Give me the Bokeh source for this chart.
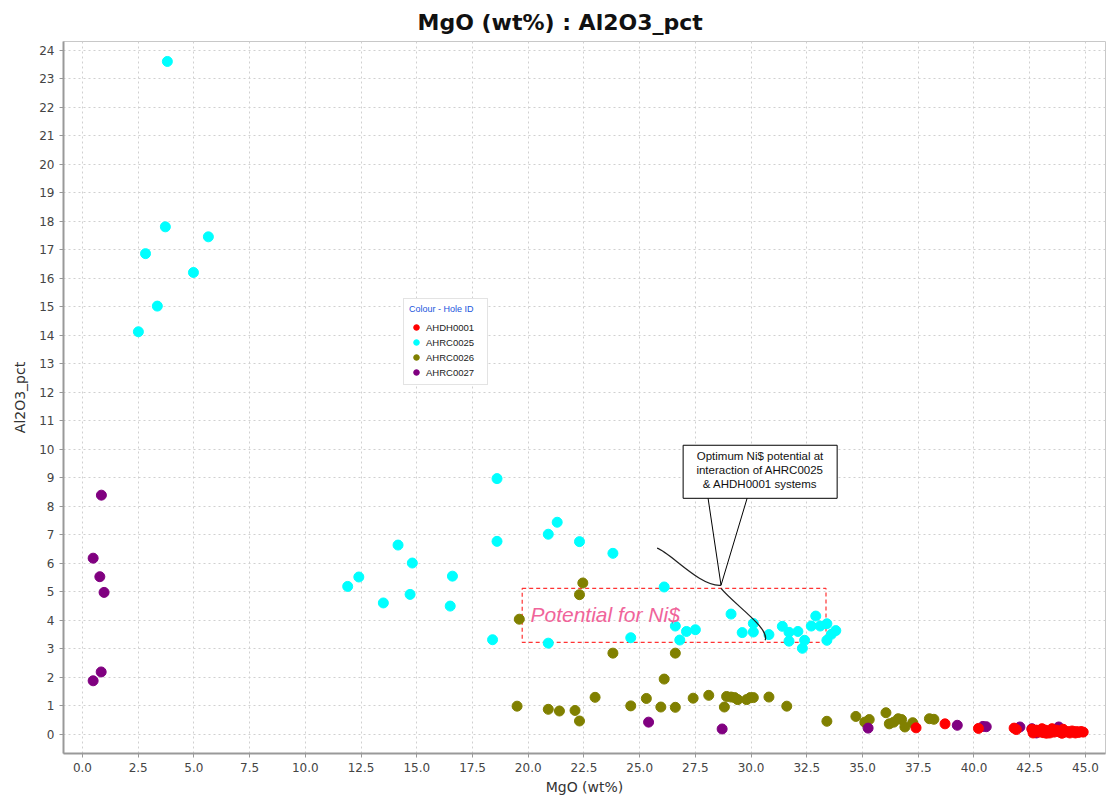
from bokeh.plotting import figure
from bokeh.models import Legend, LegendItem, SingleIntervalTicker, NumeralTickFormatter, Label, Range1d
from bokeh.embed import file_html
from bokeh.resources import INLINE

# ---------------- data ----------------
hole_ids = ["AHDH0001", "AHRC0025", "AHRC0026", "AHRC0027"]
hole_colors = ["#ff0000", "#00ffff", "#808000", "#800080"]

ahdh0001_mgo = [37.4, 38.7, 40.2, 41.9, 41.8,
                42.6, 42.7, 42.8, 42.9, 43.0, 43.05, 43.1, 43.2, 43.3, 43.4, 43.5, 43.5,
                43.6, 43.7, 43.8, 43.9, 44.0, 44.0, 44.1, 44.2, 44.3, 44.4, 44.5, 44.6,
                44.7, 44.8, 44.9, 42.65, 43.25, 43.95, 44.55]
ahdh0001_al2o3 = [0.23, 0.37, 0.21, 0.17, 0.22,
                  0.18, 0.10, 0.15, 0.08, 0.12, 0.20, 0.06, 0.15, 0.10, 0.05, 0.12, 0.20,
                  0.08, 0.15, 0.10, 0.06, 0.12, 0.18, 0.08, 0.10, 0.05, 0.12, 0.08, 0.10,
                  0.07, 0.10, 0.08, 0.05, 0.04, 0.04, 0.05]

ahrc0025_mgo = [3.81, 3.72, 5.65, 2.83, 4.98, 3.36, 2.51,
                11.9, 12.4, 13.5, 14.16, 14.8, 14.7, 16.6, 16.5, 18.6, 18.6,
                20.9, 21.3, 22.3, 23.8,
                18.4, 20.9, 24.6, 26.1, 26.6, 26.8, 27.1, 27.5, 29.1, 29.6, 30.1, 30.1,
                30.8, 31.4, 31.7, 32.1, 31.7, 32.4, 32.3, 32.7, 32.9, 33.1, 33.4, 33.4,
                33.6, 33.8]
ahrc0025_al2o3 = [23.6, 17.8, 17.45, 16.86, 16.2, 15.02, 14.12,
                  5.19, 5.52, 4.61, 6.64, 6.01, 4.91, 5.55, 4.5, 8.97, 6.77,
                  7.02, 7.44, 6.76, 6.35,
                  3.32, 3.2, 3.39, 5.17, 3.8, 3.31, 3.61, 3.67, 4.22, 3.57, 3.89, 3.59,
                  3.5, 3.79, 3.58, 3.61, 3.27, 3.3, 3.02, 3.8, 4.15, 3.8, 3.88, 3.3,
                  3.51, 3.64]

ahrc0026_mgo = [19.6, 22.45, 22.3, 23.8, 26.6, 26.1,
                19.5, 20.9, 21.4, 22.1, 22.3, 23.0, 24.6, 25.3, 25.95, 26.6, 27.4,
                28.1, 28.8, 28.9, 29.1, 29.26, 29.4, 29.8, 29.96, 30.1, 30.8, 31.6,
                33.4, 34.7, 35.1, 35.3, 36.05, 36.2, 36.4, 36.6, 36.75, 36.9, 37.25,
                38.0, 38.2]
ahrc0026_al2o3 = [4.04, 5.31, 4.9, 2.85, 2.85, 1.94,
                  0.99, 0.88, 0.82, 0.84, 0.47, 1.3, 1.0, 1.26, 0.96, 0.95, 1.27,
                  1.37, 0.96, 1.33, 1.31, 1.29, 1.22, 1.22, 1.29, 1.29, 1.31, 0.99,
                  0.46, 0.63, 0.43, 0.52, 0.76, 0.37, 0.43, 0.55, 0.52, 0.26, 0.41,
                  0.55, 0.53]

ahrc0027_mgo = [0.85, 0.48, 0.78, 0.97, 0.84, 0.48,
                25.4, 28.7, 35.25, 39.25, 40.4, 40.55, 42.06, 42.6, 42.8, 43.8]
ahrc0027_al2o3 = [8.39, 6.18, 5.53, 4.98, 2.19, 1.88,
                  0.43, 0.19, 0.22, 0.32, 0.28, 0.27, 0.26, 0.2, 0.05, 0.26]

x_ticks_step = 2.5
y_ticks_step = 1

# ---------------- figure ----------------
FONT = "DejaVu Sans"
AFONT = "Liberation Sans"

p = figure(width=1110, height=800, output_backend="svg", toolbar_location=None,
           x_range=Range1d(-0.85, 45.9), y_range=Range1d(-0.67, 24.3),
           min_border_left=63, min_border_right=5, min_border_top=41, min_border_bottom=47)

p.title.text = "MgO (wt%) : Al2O3_pct"
p.title.align = "left"
p.title.offset = 354
p.title.standoff = 14
p.title.text_font = FONT
p.title.text_font_size = "22px"
p.title.text_font_style = "bold"
p.title.text_color = "#111111"

p.background_fill_color = "white"
p.border_fill_color = "white"
p.outline_line_color = "#c8c8c8"

p.xaxis.ticker = SingleIntervalTicker(interval=x_ticks_step)
p.yaxis.ticker = SingleIntervalTicker(interval=y_ticks_step)
p.xaxis.formatter = NumeralTickFormatter(format="0.0")
p.xaxis.axis_label = "MgO (wt%)"
p.yaxis.axis_label = "Al2O3_pct"
for ax in (p.xaxis, p.yaxis):
    ax.axis_label_text_font = FONT
    ax.axis_label_text_font_size = "14px"
    ax.axis_label_text_font_style = "normal"
    ax.axis_label_text_color = "#333333"
    ax.major_label_text_font = FONT
    ax.major_label_text_font_size = "12px"
    ax.major_label_text_color = "#444444"
    ax.axis_line_color = "#999999"
    ax.axis_line_width = 2
    ax.major_tick_line_color = "#999999"
    ax.major_tick_out = 4
    ax.major_tick_in = 0
    ax.minor_tick_line_color = None
p.xaxis.axis_label_standoff = 4
p.yaxis.axis_label_standoff = 8

p.xgrid.grid_line_color = "#d0d0d0"
p.ygrid.grid_line_color = "#d0d0d0"
p.xgrid.grid_line_dash = "2 3"
p.ygrid.grid_line_dash = "2 3"

# annotation box (red dashed)
p.quad(left=19.73, right=33.36, bottom=3.23, top=5.12, fill_color=None,
       line_color="#ff3333", line_dash="4 3", line_width=1.2)

# data
series = [
    (ahrc0025_mgo, ahrc0025_al2o3, 1),
    (ahrc0026_mgo, ahrc0026_al2o3, 2),
    (ahrc0027_mgo, ahrc0027_al2o3, 3),
    (ahdh0001_mgo, ahdh0001_al2o3, 0),
]
renderers = {}
for xs, ys, idx in series:
    r = p.scatter(xs, ys, size=10, fill_color=hole_colors[idx], line_color=hole_colors[idx])
    renderers[idx] = r

legend = Legend(items=[LegendItem(label=hole_ids[i], renderers=[renderers[i]]) for i in range(4)],
                location=(340, 368))
legend.title = "Colour - Hole ID"
legend.title_text_font = AFONT
legend.title_text_font_size = "9px"
legend.title_text_font_style = "normal"
legend.title_text_color = "#2255dd"
legend.title_standoff = 6
legend.label_text_font = AFONT
legend.label_text_font_size = "9.5px"
legend.label_text_color = "#222222"
legend.label_height = 14
legend.label_width = 56
legend.label_standoff = 3
legend.glyph_height = 14
legend.glyph_width = 14
legend.spacing = 1
legend.padding = 5
legend.margin = 0
legend.border_line_color = "#c8c8c8"
legend.background_fill_alpha = 1
p.add_layout(legend, "center")

# callout
p.quad(left=26.95, right=33.86, bottom=8.28, top=10.14, fill_color="white", line_color="black", line_width=1)
p.line([28.07, 28.65, 29.82], [8.28, 5.23, 8.28], line_color="black", line_width=1)
p.bezier(x0=[25.78], y0=[6.53], x1=[28.65], y1=[5.23], cx0=[26.37], cy0=[6.39], cx1=[27.71], cy1=[5.16],
         line_color="#222222", line_width=1.3)
p.bezier(x0=[28.65], y0=[5.12], x1=[30.63], y1=[3.30], cx0=[29.28], cy0=[4.53], cx1=[30.85], cy1=[3.72],
         line_color="#222222", line_width=1.3)

for txt, yy in [("Optimum Ni$ potential at", 9.75), ("interaction of AHRC0025", 9.26),
                ("& AHDH0001 systems", 8.77)]:
    p.add_layout(Label(x=30.4, y=yy, text=txt, text_align="center", text_baseline="middle",
                       text_font=AFONT, text_font_size="11.5px", text_color="#111111"))

p.add_layout(Label(x=20.1, y=4.2, text="Potential for Ni$", text_align="left", text_baseline="middle",
                   text_font=AFONT, text_font_size="21px", text_font_style="italic",
                   text_color="#f0649a"))

open("out.html", "w").write(file_html(p, INLINE))
